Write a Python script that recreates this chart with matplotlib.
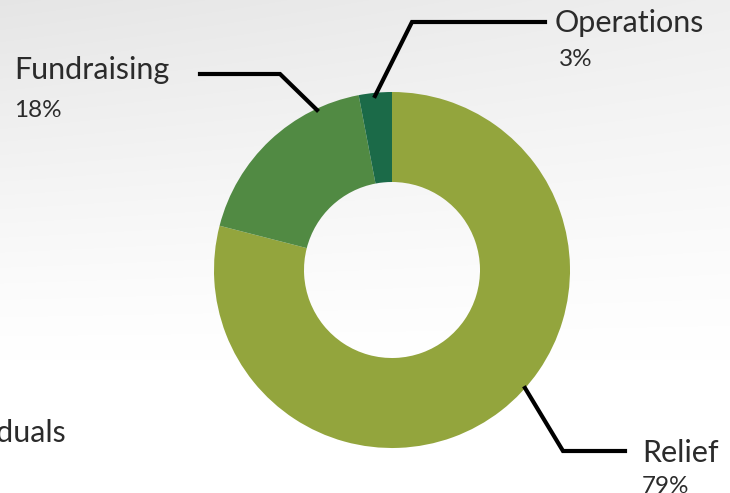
import numpy as np
import matplotlib
matplotlib.use("Agg")
import matplotlib.pyplot as plt

# data
labels = ["Relief", "Fundraising", "Operations"]
shares = [79, 18, 3]
colors = ["#93a53d", "#518a43", "#1b6a48"]

W, H = 730, 493
TEXT = "#2b2b2b"

fig = plt.figure(figsize=(W / 100, H / 100), dpi=100)
ax = fig.add_axes([0, 0, 1, 1])


def py(y):
    # pixel rows counted from the top
    return H - y


# soft grey background fading to white towards the bottom
yy, xx = np.mgrid[0:H, 0:W]
shade = np.clip(1 - yy / 360.0, 0, 1) ** 1.2
shade = shade * (1 - 0.35 * xx / W)
bg = 1 - 0.1 * shade
ax.imshow(np.dstack([bg, bg, bg]), extent=[0, W, 0, H], origin="upper",
          zorder=0, interpolation="bilinear")

ax.pie(shares, colors=colors, startangle=90, counterclock=False,
       center=(392, py(270)), radius=178,
       wedgeprops=dict(width=90, linewidth=0), frame=True)
ax.set_xlim(0, W)
ax.set_ylim(0, H)
ax.set_aspect("equal")
ax.axis("off")

# leader lines
leaders = {
    "Fundraising": [(317, 110), (280, 74), (200, 74)],
    "Operations": [(375, 96), (412, 22), (545, 22)],
    "Relief": [(525, 388), (563, 451), (625, 451)],
}
for pts in leaders.values():
    xs = [p[0] for p in pts]
    ys = [py(p[1]) for p in pts]
    ax.plot(xs, ys, color="black", lw=3, solid_joinstyle="miter", zorder=3)

font = "Lato"
label_pos = {
    "Fundraising": ((14, 79), (14, 117)),
    "Operations": ((555, 32), (559, 66)),
    "Relief": ((642, 462), (642, 493)),
}
for name, share in zip(labels, shares):
    (lx, ly), (vx, vy) = label_pos[name]
    ax.text(lx, py(ly), name, fontsize=22, color=TEXT, family=font,
            va="baseline", ha="left")
    ax.text(vx, py(vy), f"{share}%", fontsize=17.5, color=TEXT, family=font,
            va="baseline", ha="left")

# partially visible label at the left edge
ax.text(66, py(442), "Individuals", fontsize=22, color=TEXT, family=font,
        va="baseline", ha="right")

fig.savefig("out.png", dpi=100)
